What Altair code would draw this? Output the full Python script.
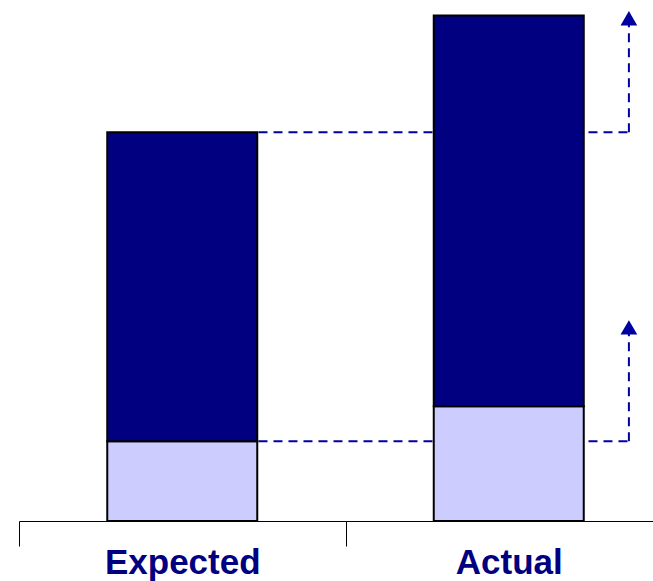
import altair as alt
import pandas as pd

# Two scenarios compared as stacked columns: a light base segment and a dark upper segment
categories = ["Expected", "Actual"]
base_values = [20.5, 29.5]
total_values = [100.0, 130.0]

# Levels of the Expected column that are carried across to the Actual column
guide_levels = [100.0, 20.5]
arrow_rise = 29.3

DARK = "#000080"
LIGHT = "#CCCCFF"
GUIDE = "#0000A0"

segments = pd.DataFrame(
    {
        "category": categories * 2,
        "segment": ["base"] * 2 + ["upper"] * 2,
        "start": [0.0, 0.0] + base_values,
        "end": base_values + total_values,
    }
)

guides = pd.DataFrame(
    {
        "source": ["Expected"] * len(guide_levels),
        "target": ["Actual"] * len(guide_levels),
        "level": guide_levels,
    }
)

x_scale = alt.Scale(domain=categories, range=[1, 654], paddingInner=0, paddingOuter=0)
y_scale = alt.Scale(domain=[0, 134], nice=False, zero=True)

x_axis = alt.Axis(
    title=None,
    grid=False,
    domainColor="#000000",
    domainWidth=1,
    tickColor="#000000",
    tickWidth=1,
    tickSize=25,
    tickBand="extent",
    labelFont="Liberation Sans, Arial",
    labelFontSize=35,
    labelFontWeight="bold",
    labelColor=DARK,
    labelBaseline="alphabetic",
    labelPadding=27,
    labelLimit=0,
    labelAngle=0,
)

# Horizontal dashed guides from the Expected column to the arrow line
h_guides = alt.Chart(guides).mark_rule(
    color=GUIDE, strokeWidth=2, strokeDash=[9, 6]
).encode(
    x=alt.X("source:N", scale=x_scale, axis=x_axis, bandPosition=0.7335),
    x2=alt.X2("target:N", bandPosition=0.868),
    y=alt.Y("level:Q", scale=y_scale, axis=None),
)

# Vertical dashed risers ending in arrow heads
risers = alt.Chart(guides).transform_calculate(
    top=f"datum.level + {arrow_rise}"
).mark_rule(color=GUIDE, strokeWidth=2, strokeDash=[9, 6]).encode(
    x=alt.X("target:N", scale=x_scale, axis=x_axis, bandPosition=0.868),
    y=alt.Y("level:Q", scale=y_scale, axis=None),
    y2="top:Q",
)

heads = alt.Chart(guides).transform_calculate(
    top=f"datum.level + {arrow_rise}"
).mark_point(
    shape="triangle-up", filled=True, size=280, color=GUIDE, opacity=1, strokeWidth=0
).encode(
    x=alt.X("target:N", scale=x_scale, axis=x_axis, bandPosition=0.868),
    y=alt.Y("top:Q", scale=y_scale, axis=None),
)

bars = alt.Chart(segments).mark_bar(
    size=150, stroke="#000000", strokeWidth=2
).encode(
    x=alt.X("category:N", scale=x_scale, axis=x_axis, sort=categories),
    y=alt.Y("start:Q", scale=y_scale, axis=None),
    y2="end:Q",
    color=alt.Color(
        "segment:N",
        scale=alt.Scale(domain=["base", "upper"], range=[LIGHT, DARK]),
        legend=None,
    ),
)

chart = (
    alt.layer(h_guides, risers, heads, bars)
    .properties(
        width=635,
        height=521,
        background="#ffffff",
        autosize=alt.AutoSizeParams(type="none"),
        padding={"left": 18, "top": 0, "right": 0, "bottom": 60},
    )
    .configure_view(stroke="transparent", strokeWidth=0)
    .configure_axis(grid=False)
)

chart.save("out.html", embed_options={"renderer": "svg", "actions": False})
